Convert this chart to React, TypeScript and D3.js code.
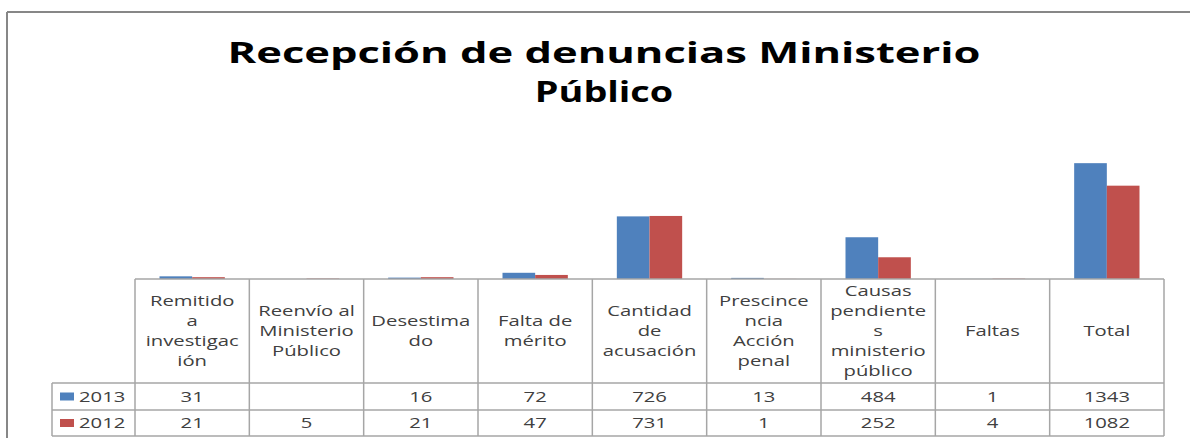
import React from "react";
import * as d3 from "d3";

// chart data
const categories: string[][] = [
  ["Remitido", "a", "investigac", "ión"],
  ["Reenvío al", "Ministerio", "Público"],
  ["Desestima", "do"],
  ["Falta de", "mérito"],
  ["Cantidad", "de", "acusación"],
  ["Prescince", "ncia", "Acción", "penal"],
  ["Causas", "pendiente", "s", "ministerio", "público"],
  ["Faltas"],
  ["Total"],
];
const series = ["2013", "2012"];
const values2013: (number | null)[] = [31, null, 16, 72, 726, 13, 484, 1, 1343];
const values2012: (number | null)[] = [21, 5, 21, 47, 731, 1, 252, 4, 1082];
const seriesValues = [values2013, values2012];
const colors = ["#4F81BD", "#C0504D"];

const W = 1190;
const H = 438;
const FONT = "'Open Sans', sans-serif";
const SX = 1.35; // the original picture is stretched horizontally

const App: React.FC = () => {
  const tableLeft = 135;
  const tableRight = 1164;
  const legendLeft = 52;
  const baseY = 279;
  const headerBottom = 383;
  const row1Bottom = 410;
  const row2Bottom = 436;

  const ids = categories.map((_, i) => String(i));
  const x0 = d3.scaleBand().domain(ids).range([tableLeft, tableRight]).padding(0);
  const x1 = d3
    .scaleBand()
    .domain(series)
    .range([0, x0.bandwidth()])
    .paddingInner(0)
    .paddingOuter(0.75);
  const y = d3.scaleLinear().domain([0, 1600]).range([baseY, 141]);

  const gridColor = "#A6A6A6";
  const textColor = "#404040";
  const rowsY = [
    [headerBottom, row1Bottom],
    [row1Bottom, row2Bottom],
  ];

  return (
    <svg
      width={W}
      height={H}
      style={{ position: "absolute", left: 0, top: 0, background: "#fff" }}
    >
      {/* frame */}
      <line x1={7} y1={12} x2={W} y2={12} stroke="#878787" strokeWidth={2} />
      <line x1={7} y1={12} x2={7} y2={H} stroke="#878787" strokeWidth={2} />

      {/* title */}
      <g fontFamily={FONT} fontWeight="bold" fontSize={28} fill="#000">
        <text
          x={604}
          y={63}
          textAnchor="middle"
          textLength={753}
          lengthAdjust="spacingAndGlyphs"
        >
          Recepción de denuncias Ministerio
        </text>
        <g transform={`translate(604,102) scale(${SX},1)`}>
          <text x={0} y={0} textAnchor="middle">
            Público
          </text>
        </g>
      </g>

      {/* bars */}
      {seriesValues.map((vals, s) =>
        vals.map((v, i) =>
          v == null ? null : (
            <rect
              key={`${s}-${i}`}
              x={x0(String(i))! + x1(series[s])!}
              y={y(v)}
              width={x1.bandwidth()}
              height={baseY - y(v)}
              fill={colors[s]}
            />
          )
        )
      )}

      {/* data table grid */}
      <g stroke={gridColor} strokeWidth={1.5} fill="none">
        <line x1={tableLeft} y1={baseY} x2={tableRight} y2={baseY} />
        <line x1={legendLeft} y1={headerBottom} x2={tableRight} y2={headerBottom} />
        <line x1={legendLeft} y1={row1Bottom} x2={tableRight} y2={row1Bottom} />
        <line x1={legendLeft} y1={row2Bottom} x2={tableRight} y2={row2Bottom} />
        <line x1={legendLeft} y1={headerBottom} x2={legendLeft} y2={row2Bottom} />
        {ids.map((id) => (
          <line
            key={id}
            x1={x0(id)!}
            y1={baseY}
            x2={x0(id)!}
            y2={row2Bottom}
          />
        ))}
        <line x1={tableRight} y1={baseY} x2={tableRight} y2={row2Bottom} />
      </g>

      {/* header labels */}
      <g fontFamily={FONT} fontSize={15} fill={textColor}>
        {categories.map((lines, i) => {
          const cx = x0(String(i))! + x0.bandwidth() / 2;
          const cy = (baseY + headerBottom) / 2;
          return lines.map((ln, k) => (
            <g
              key={`${i}-${k}`}
              transform={`translate(${cx},${cy + (k - (lines.length - 1) / 2) * 20}) scale(${SX},1)`}
            >
              <text x={0} y={0} dy="0.35em" textAnchor="middle">
                {ln}
              </text>
            </g>
          ));
        })}

        {/* value rows */}
        {seriesValues.map((vals, s) => {
          const cy = (rowsY[s][0] + rowsY[s][1]) / 2;
          return (
            <g key={`row-${s}`}>
              <rect x={60} y={cy - 4} width={14} height={8} fill={colors[s]} />
              <g transform={`translate(79,${cy}) scale(${SX},1)`}>
                <text x={0} y={0} dy="0.35em" textAnchor="start">
                  {series[s]}
                </text>
              </g>
              {vals.map((v, i) =>
                v == null ? null : (
                  <g
                    key={i}
                    transform={`translate(${x0(String(i))! + x0.bandwidth() / 2},${cy}) scale(${SX},1)`}
                  >
                    <text x={0} y={0} dy="0.35em" textAnchor="middle">
                      {v}
                    </text>
                  </g>
                )
              )}
            </g>
          );
        })}
      </g>
    </svg>
  );
};

export default App;
